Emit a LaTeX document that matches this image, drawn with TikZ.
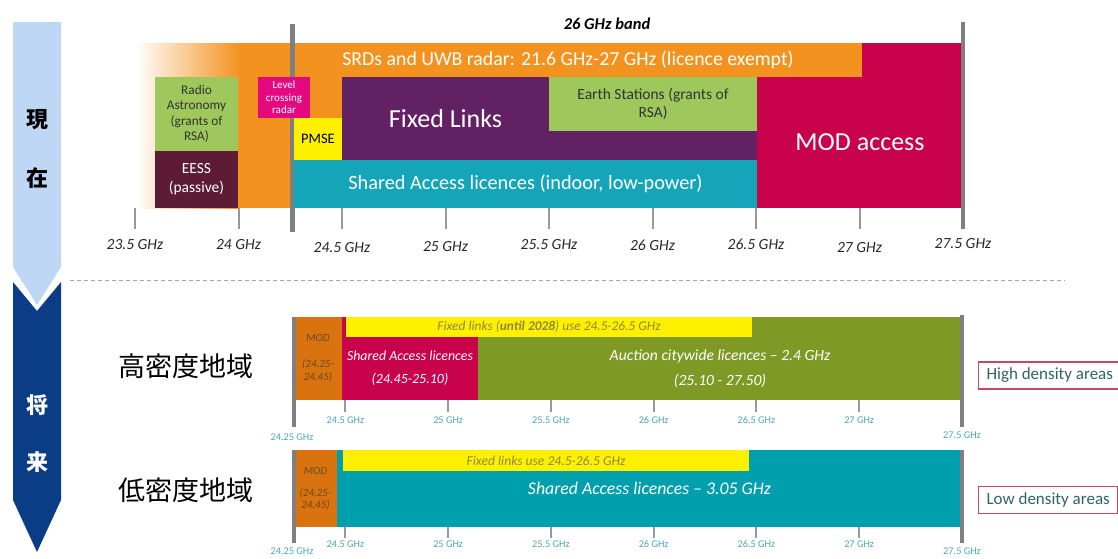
\documentclass[tikz,border=0pt]{standalone}
\usepackage{fontspec}
\setmainfont{Carlito}
\newfontfamily\cjk{Noto Sans CJK JP}
\usetikzlibrary{positioning}
\definecolor{nowblue}{HTML}{BDD7F5}
\definecolor{futblue}{HTML}{0B3C86}
\definecolor{srdorange}{HTML}{F4921F}
\definecolor{rsagreen}{HTML}{9EC75C}
\definecolor{eessred}{HTML}{5E1B35}
\definecolor{lcrpink}{HTML}{E4097F}
\definecolor{pmseyellow}{HTML}{FFF000}
\definecolor{fixpurple}{HTML}{622162}
\definecolor{sateal}{HTML}{14A6B8}
\definecolor{modred}{HTML}{C9024C}
\definecolor{modorange}{HTML}{D9730F}
\definecolor{aucolive}{HTML}{7E9A24}
\definecolor{lowteal}{HTML}{009FAD}
\definecolor{axisgray}{HTML}{7F7F7F}
\definecolor{ticklab}{HTML}{4AA8B6}
\definecolor{fixtext}{HTML}{8B8A3C}
\definecolor{modtext}{HTML}{6B4A1A}
\definecolor{arealine}{HTML}{C8485E}
\definecolor{areatext}{HTML}{2E6468}
\newcommand{\fsz}[2]{\fontsize{#1}{#2}\selectfont}
\tikzset{
box/.style = {inner sep=0pt, outer sep=0pt, anchor=north west, align=center},
lbl/.style = {inner sep=0pt, align=center},
tick/.style = {draw=axisgray!80, line width=2pt},
bar/.style = {draw=axisgray, line width=4pt},
toptick/.style = {lbl, font=\fsz{15.5}{17}\itshape, text=black!85},
lowtick/.style = {lbl, font=\fsz{10.3}{12}, text=ticklab},
area/.style = {draw=arealine, line width=1.1pt, inner xsep=8pt, minimum height=27pt, anchor=west, font=\fsz{17}{19}, text=areatext},
jplbl/.style = {lbl, font=\cjk\fsz{27}{30}},
arrowlbl/.style = {lbl, font=\cjk\bfseries\fsz{22}{24}}
}
\begin{document}
\begin{tikzpicture}[x=1pt, y=-1pt, >=latex]
    \useasboundingbox (0,0) rectangle (1118,558);

    % the arrow on the left
    \fill[nowblue] (13,22) -- (61,22) -- (61,267) -- (37,305) -- (13,267) -- cycle;
    \fill[futblue] (13,282) -- (37,311) -- (61,282) -- (61,500) -- (37,552) -- (13,500) -- cycle;
    \node[arrowlbl] (now1) at (37,120) {現};
    \node[arrowlbl, below=58pt of now1.center, anchor=center] (now2) {在};
    \node[arrowlbl, text=white] (fut1) at (37,405) {将};
    \node[arrowlbl, text=white, below=57pt of fut1.center, anchor=center] (fut2) {来};

    % the 26 GHz band as it is now
    \node[lbl, font=\fsz{16.5}{18}\bfseries\itshape] (title) at (607,24) {26 GHz band};
    \fill[srdorange] (240,43) rectangle (862,208);
    \shade[left color=white, right color=srdorange] (135,43) rectangle (240,208);
    \node[lbl, font=\fsz{19.8}{22}, text=white] (srd) at (568,60) {SRDs and UWB radar: 21.6 GHz-27 GHz (licence exempt)};
    \draw[bar, line width=5pt] (292,24) -- (292,232);
    \node[box, fill=rsagreen, minimum width=83, minimum height=74, font=\fsz{13.3}{15.5}, text=black!80] (radio) at (155,77) {Radio\\Astronomy\\(grants of\\RSA)};
    \node[box, fill=eessred, minimum width=83, minimum height=57, font=\fsz{15.5}{19}, text=white] (eess) at (155,151) {EESS\\(passive)};
    \node[box, fill=lcrpink, minimum width=52, minimum height=41, font=\fsz{11}{12.5}, text=white] (lcr) at (258,77) {Level\\crossing\\radar};
    \node[box, fill=pmseyellow, minimum width=48, minimum height=42, font=\fsz{14.5}{16}] (pmse) at (294,118) {PMSE};
    \node[box, fill=fixpurple, minimum width=207, minimum height=83, font=\fsz{26}{28}, text=white] (fixed) at (342,77) {Fixed Links};
    \fill[fixpurple] (fixed.north east) rectangle (757,160);
    \node[box, fill=rsagreen, minimum width=208, minimum height=54, font=\fsz{15.5}{18}, text=black!80] (earth) at (549,77) {Earth Stations (grants of\\RSA)};
    \node[box, fill=sateal, minimum width=463, minimum height=48, font=\fsz{20.3}{22}, text=white] (shared) at (294,160) {Shared Access licences (indoor, low-power)};
    \fill[modred] (862,43) rectangle (963,77);
    \node[box, fill=modred, minimum width=206, minimum height=131, font=\fsz{26}{28}, text=white] (modacc) at (757,77) {MOD access};
    \draw[bar] (963,22) -- (963,229);
    \foreach \f/\ly [count=\i] in {23.5/245,24/245,24.5/248,25/247,25.5/245,26/245,26.5/244,27/248,27.5/244} {
        \pgfmathsetmacro\xx{135+(\f-23.5)*207}
        \ifnum\i<9 \draw[tick] (\xx,208) -- (\xx,229); \fi
        \node[toptick] (tt\i) at (\xx,\ly) {\f\ GHz};
    }

    \draw[axisgray!70, dashed, dash pattern=on 4pt off 3pt, line width=0.8pt] (70,280) -- (1065,280);

    % high density areas
    \node[jplbl] (hilbl) at (186,366) {高密度地域};
    \node[box, fill=modorange, minimum width=48, minimum height=83, font=\fsz{11}{13}\itshape, text=modtext] (hmod) at (294,317) {MOD\\[13pt](24.25-\\24.45)};
    \fill[modred] (342,317) rectangle (346,337);
    \node[box, fill=modred, minimum width=136, minimum height=63, font=\fsz{13.9}{15}\itshape, text=white] (hshared) at (342,337) {Shared Access licences\\[8pt]{\fsz{14}{15}(24.45-25.10)}};
    \fill[aucolive] (478,317) rectangle (962,337);
    \node[box, fill=aucolive, minimum width=484, minimum height=63, font=\fsz{15.6}{17}\itshape, text=white] (hauction) at (478,337) {Auction citywide licences -- 2.4 GHz\\[8pt](25.10 - 27.50)};
    \node[box, fill=pmseyellow, minimum width=406, minimum height=20, font=\fsz{13.4}{14}\itshape, text=fixtext] (hfixed) at (346,317) {Fixed links (\textbf{until 2028}) use 24.5-26.5 GHz};
    \draw[bar] (294,317) -- (294,427);
    \draw[bar] (962,315) -- (962,427);
    \foreach \f [count=\i] in {24.5,25,25.5,26,26.5,27} {
        \pgfmathsetmacro\xx{294+(\f-24.25)*205.5}
        \draw[tick] (\xx,400) -- (\xx,412);
        \node[lowtick] (ht\i) at (\xx,420) {\f\ GHz};
    }
    \node[lowtick] (hstart) at (292,437) {24.25 GHz};
    \node[lowtick] (hend) at (962,435) {27.5 GHz};
    \node[area] (hdarea) at (978,375.5) {High density areas};

    % low density areas
    \node[jplbl] (lolbl) at (186,490) {低密度地域};
    \node[box, fill=modorange, minimum width=43, minimum height=77, font=\fsz{11}{12}\itshape, text=modtext] (lmod) at (294,450) {MOD\\[10pt](24.25-\\24.45)};
    \node[box, fill=lowteal, minimum width=625, minimum height=77, font=\fsz{17.8}{19}\itshape, text=white] (lshared) at (337,450) {Shared Access licences -- 3.05 GHz};
    \node[box, fill=pmseyellow, minimum width=406, minimum height=21, font=\fsz{13.6}{14}\itshape, text=fixtext] (lfixed) at (343,450) {Fixed links use 24.5-26.5 GHz};
    \draw[bar] (294,450) -- (294,543);
    \draw[bar] (962,450) -- (962,543);
    \foreach \f [count=\i] in {24.5,25,25.5,26,26.5,27} {
        \pgfmathsetmacro\xx{294+(\f-24.25)*205.5}
        \draw[tick] (\xx,527) -- (\xx,538);
        \node[lowtick] (lt\i) at (\xx,544) {\f\ GHz};
    }
    \node[lowtick] (lstart) at (292,551) {24.25 GHz};
    \node[lowtick] (lend) at (962,551) {27.5 GHz};
    \node[area] (ldarea) at (978,500) {Low density areas};
\end{tikzpicture}
\end{document}
